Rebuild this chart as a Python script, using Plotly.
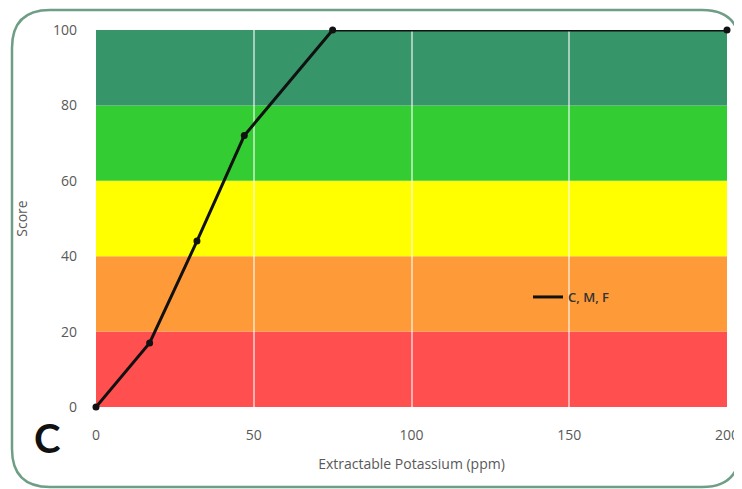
import plotly.graph_objects as go

potassium = [0, 17, 32, 47, 75, 200]
score = [0, 17, 44, 72, 100, 100]
band_edges = [0, 20, 40, 60, 80, 100]
band_colors = ["#ff4f4f", "#ff9a38", "#ffff00", "#33cc33", "#36966a"]
x_ticks = [0, 50, 100, 150, 200]
y_ticks = [0, 20, 40, 60, 80, 100]
series_name = "C, M, F"

OFF = 8  # page body margin
W, H = 742 - OFF, 489 - OFF
L, T = 96 - OFF, 30 - OFF
R = W - (727 - OFF)
B = H - (407 - OFF)
pw, ph = W - L - R, H - T - B

def px2p(x, y):
    # screen pixel -> paper coords
    return (x - OFF - L) / pw, (H - B - (y - OFF)) / ph

fig = go.Figure()
fig.add_trace(go.Scatter(
    x=potassium, y=score, mode="lines+markers", name=series_name, showlegend=False,
    line=dict(color="#111111", width=3), marker=dict(color="#111111", size=7),
    cliponaxis=False,
))
fig.add_trace(go.Scatter(
    x=[None], y=[None], mode="lines", name=series_name,
    line=dict(color="#111111", width=3),
))

shapes = []
for i, c in enumerate(band_colors):
    shapes.append(dict(type="rect", xref="paper", yref="y", x0=0, x1=1,
                       y0=band_edges[i], y1=band_edges[i + 1],
                       fillcolor=c, line=dict(width=0), layer="below"))

x0, y0, x1, y1, r = 12, 10, 740, 487, 38
pts = {
    "a": px2p(x0 + r, y0), "b": px2p(x1 - r, y0), "c": px2p(x1, y0), "d": px2p(x1, y0 + r),
    "e": px2p(x1, y1 - r), "f": px2p(x1, y1), "g": px2p(x1 - r, y1), "h": px2p(x0 + r, y1),
    "i": px2p(x0, y1), "j": px2p(x0, y1 - r), "k": px2p(x0, y0 + r), "l": px2p(x0, y0),
}
f = lambda k: f"{pts[k][0]:.5f},{pts[k][1]:.5f}"
path = (f"M{f('a')} L{f('b')} Q{f('c')} {f('d')} L{f('e')} Q{f('f')} {f('g')} "
        f"L{f('h')} Q{f('i')} {f('j')} L{f('k')} Q{f('l')} {f('a')} Z")
shapes.append(dict(type="path", xref="paper", yref="paper", path=path,
                   line=dict(color="#6e9e86", width=2.5), layer="above"))

lx, ly = px2p(528, 297)
cx, cy = px2p(47, 438)

fig.update_layout(
    width=W, height=H, margin=dict(l=L, r=R, t=T, b=B, autoexpand=False),
    paper_bgcolor="white", plot_bgcolor="white",
    shapes=shapes,
    font=dict(family="Open Sans", color="#595959", size=14),
    showlegend=True,
    legend=dict(x=lx, y=ly, xanchor="left", yanchor="middle",
                bgcolor="rgba(0,0,0,0)",
                font=dict(size=13, color="#333333", weight=600),
                itemwidth=30),
    xaxis=dict(range=[0, 200], tickvals=x_ticks, showgrid=True,
               gridcolor="rgba(255,255,255,0.55)", gridwidth=1.5, zeroline=False,
               showline=False, ticks="", layer="above traces", automargin=False,
               ticklabelstandoff=18,
               title=dict(text="Extractable Potassium (ppm)", font=dict(size=14, color="#595959"), standoff=16)),
    yaxis=dict(range=[0, 100], tickvals=y_ticks, showgrid=False, zeroline=False,
               showline=False, ticks="", automargin=False, ticklabelstandoff=18,
               title=dict(text="Score", font=dict(size=14, color="#595959"), standoff=22)),
    annotations=[dict(text="<b>C</b>", xref="paper", yref="paper",
                      x=cx, y=cy, xanchor="center", yanchor="middle", showarrow=False,
                      font=dict(family="Lato", size=40, color="#111111"))],
)

fig.write_html("out.html")
